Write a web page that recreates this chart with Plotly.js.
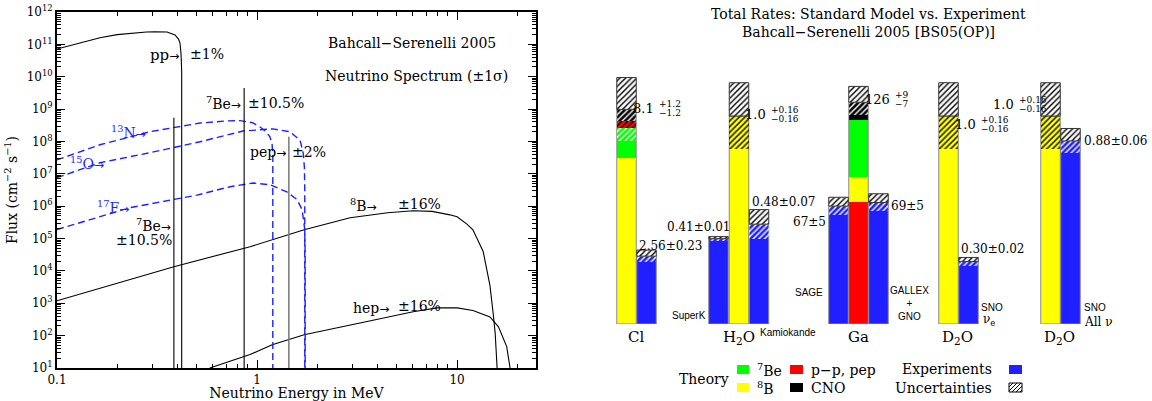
<!DOCTYPE html>
<html><head><meta charset="utf-8">
<script src="https://cdn.plot.ly/plotly-3.0.1.min.js"></script>
<style>html,body{margin:0;padding:0;background:#fff}#chart{width:1152px;height:401px}</style>
</head><body><div id="chart"></div>
<script>
// ================= DATA: left panel (BS05 neutrino spectrum) =================
// continuum spectra: energy (MeV) and flux (cm^-2 s^-1 MeV^-1)
const ppE   = [0.1, 0.13, 0.164, 0.2, 0.24, 0.28, 0.309, 0.355, 0.389, 0.405, 0.412, 0.417, 0.42, 0.42];
const ppF   = [7.2e10, 1.1e11, 1.6e11, 2.0e11, 2.25e11, 2.4e11, 2.45e11, 2.4e11, 1.95e11, 1.45e11, 1.1e11, 5e10, 1.5e10, 10];
const n13E  = [0.1, 0.164, 0.292, 0.519, 0.70, 0.822, 0.95, 1.035, 1.10, 1.16, 1.19, 1.199, 1.199];
const n13F  = [2.7e7, 7.9e7, 2.0e8, 3.7e8, 4.3e8, 4.4e8, 3.8e8, 2.8e8, 2.1e8, 1.4e8, 7.9e7, 3.2e7, 10];
const o15E  = [0.1, 0.164, 0.292, 0.519, 0.851, 1.2, 1.46, 1.64, 1.70, 1.725, 1.732, 1.732];
const o15F  = [7.6e6, 2.2e7, 4.5e7, 9.8e7, 2.1e8, 2.45e8, 2.0e8, 1.1e8, 4.5e7, 1.6e7, 3.2e6, 10];
const f17E  = [0.1, 0.232, 0.501, 0.733, 0.955, 1.16, 1.41, 1.585, 1.68, 1.73, 1.74, 1.74];
const f17F  = [1.9e5, 9e5, 2.2e6, 4.0e6, 5.2e6, 4.6e6, 2.75e6, 1.6e6, 7.8e5, 2e5, 3.2e4, 10];
const b8E   = [0.1, 0.384, 0.923, 1.72, 2.92, 4.5, 6.03, 7.5, 9.2, 10, 11.2, 12.0, 13.5, 14.6, 15.2, 15.5, 15.85];
const b8F   = [1.2e3, 1.35e4, 5.6e4, 1.86e5, 4.4e5, 6.3e5, 7.2e5, 6.9e5, 5.4e5, 4.7e5, 2.8e5, 1.86e5, 4e4, 3.5e3, 4e2, 1.2e2, 10];
const hepE  = [0.58, 0.923, 1.19, 1.72, 3.5, 6.03, 7.94, 10, 12, 14.6, 16.1, 17.7, 18.4];
const hepF  = [10, 26, 52, 107, 270, 550, 720, 720, 600, 380, 186, 46, 10];
// line sources: energy (MeV) and flux (cm^-2 s^-1)
const lineNames = ['7Be (0.384)', '7Be (0.862)', 'pep'];
const lineE = [0.384, 0.862, 1.442];
const lineF = [5.4e8, 4.5e9, 1.4e8];
// axis ticks
const xTickVals = [0.1, 1, 10];
const xTickText = ['0.1', '1', '10'];
const yTickExp = [1,2,3,4,5,6,7,8,9,10,11,12];

// ================= DATA: right panel (total rates) =================
const groupNames = ['Cl', 'H<sub>2</sub>O', 'Ga', 'D<sub>2</sub>O', 'D<sub>2</sub>O'];
const theory8B  = [6.28, 1.0, 14.0, 1.0, 1.0];
const theory7Be = [1.13, 0,   32.5, 0,   0];
const theoryPP  = [0.25, 0,   69.5, 0,   0];     // p-p + pep
const theoryCNO = [0.44, 0,   10.0, 0,   0];
const theoryTotal = [8.1, 1.0, 126, 1.0, 1.0];
const theoryPlus  = [1.2, 0.16, 9, 0.16, 0.16];
const theoryMinus = [1.2, 0.16, 7, 0.16, 0.16];
const theoryText  = ['8.1', '1.0', '126', '1.0', '1.0'];
const theoryPlusText  = ['+1.2', '+0.16', '+9', '+0.16', '+0.16'];
const theoryMinusText = ['−1.2', '−0.16', '−7', '−0.16', '−0.16'];
const expNames = ['', 'SuperK', 'Kamiokande', 'SAGE', 'GALLEX + GNO', 'SNO νe', 'SNO All ν'];
const expGroup = [0, 1, 1, 2, 2, 3, 4];
const expValue = [2.56, 0.41, 0.48, 67, 69, 0.30, 0.88];
const expErr   = [0.23, 0.01, 0.07, 5, 5, 0.02, 0.06];
const expDecimals = [2, 2, 2, 0, 0, 2, 2];

// ================= LAYOUT / STYLE =================
const W = 1152, H = 401;
const px = x => x / W, py = y => 1 - y / H;
const SERIF = 'DejaVu Serif', SANS = 'Liberation Sans';
const BLUE = '#1f1fff';
const ARROW = '<span style="font-family:DejaVu Sans;font-size:12px">→</span>';
// right panel: bar slot positions (px units on x2), px-per-unit scale per group
const theoryX = [626.5, 739, 858.5, 948.5, 1050.5];
const expX    = [646.5, 718.5, 759, 838.5, 878.5, 968.5, 1070.5];
const groupScale = [26.5, 208, 1.76, 208, 208];
const BW = 19.5;
const stackOrder = [['8B','7Be','pp','CNO'], ['8B'], ['pp','8B','7Be','CNO'], ['8B'], ['8B']];
const compData  = {'8B': theory8B, '7Be': theory7Be, 'pp': theoryPP, 'CNO': theoryCNO};
const compColor = {'8B': '#ffff00', '7Be': '#00ff00', 'pp': '#ff0000', 'CNO': '#000000'};
const compHatch = {'8B': '#000000', '7Be': '#ffffff', 'pp': '#000000', 'CNO': '#ffffff'};

const traces = [];
// ---- left panel curves
function curve(x, y, color, dash, w) {
  traces.push({type:'scatter', mode:'lines', x, y, xaxis:'x', yaxis:'y', hoverinfo:'skip',
    line:{color, width:w||1.1, dash:dash||'solid'}});
}
curve(ppE, ppF, 'black');
curve(b8E, b8F, 'black');
curve(hepE, hepF, 'black');
curve(n13E, n13F, BLUE, '7px,4px', 1.4);
curve(o15E, o15F, BLUE, '7px,4px', 1.4);
curve(f17E, f17F, BLUE, '7px,4px', 1.4);
lineE.forEach((e, i) => {
  curve([e, e], [lineF[i], 10], i === 2 ? '#777777' : 'black', 'solid', i === 2 ? 1.5 : 1.1);
});

// ---- right panel bars
function bars(x, base, h, opts) {
  traces.push(Object.assign({type:'bar', x, base, y:h, width:BW, xaxis:'x2', yaxis:'y2',
    hoverinfo:'skip', marker:{color:'rgba(0,0,0,0)', line:{width:0}}}, opts));
}
const hatch = (fg, bg, lineColor) => ({color: bg, line:{width: lineColor ? 1 : 0, color: lineColor || 'black'},
  pattern:{shape:'/', fgcolor: fg, bgcolor: bg, size: 4, solidity: 0.35}});

// theory stacks
const segs = {};
Object.keys(compData).forEach(k => segs[k] = {x:[], b:[], h:[]});
const lowHatch = {};
Object.keys(compData).forEach(k => lowHatch[k] = {x:[], b:[], h:[]});
theoryX.forEach((x, g) => {
  const s = groupScale[g];
  let cum = 0;
  const lo = theoryTotal[g] - theoryMinus[g], hi = theoryTotal[g];
  stackOrder[g].forEach(k => {
    const v = compData[k][g];
    if (v > 0) {
      segs[k].x.push(x); segs[k].b.push(cum * s); segs[k].h.push(v * s);
      const a = Math.max(cum, lo), b = Math.min(cum + v, hi);
      if (b > a) { lowHatch[k].x.push(x); lowHatch[k].b.push(a * s); lowHatch[k].h.push((b - a) * s); }
      cum += v;
    }
  });
});
Object.keys(segs).forEach(k => bars(segs[k].x, segs[k].b, segs[k].h, {marker:{color:compColor[k], line:{width:0}}}));
// theory outline
bars(theoryX, theoryX.map(() => 0), theoryTotal.map((t, g) => t * groupScale[g]),
  {marker:{color:'rgba(0,0,0,0)', line:{width:1, color:'#8a8a8a'}}});
Object.keys(lowHatch).forEach(k => {
  if (lowHatch[k].x.length) bars(lowHatch[k].x, lowHatch[k].b, lowHatch[k].h, {marker: hatch(compHatch[k], 'rgba(0,0,0,0)')});
});
bars(theoryX, theoryTotal.map((t, g) => t * groupScale[g]), theoryPlus.map((p, g) => p * groupScale[g]),
  {marker: hatch('black', 'white', '#333333')});

// experiments
const eScale = expGroup.map(g => groupScale[g]);
bars(expX, expX.map(() => 0), expValue.map((v, i) => v * eScale[i]),
  {marker:{color: BLUE, line:{width:1, color:'#8a8a8a'}}});
bars(expX, expValue.map((v, i) => (v - expErr[i]) * eScale[i]), expErr.map((e, i) => e * eScale[i]),
  {marker: hatch('white', 'rgba(0,0,0,0)')});
bars(expX, expValue.map((v, i) => v * eScale[i]), expErr.map((e, i) => e * eScale[i]),
  {marker: hatch('black', 'white', '#333333')});

// ================= ANNOTATIONS =================
const ann = [];
function txt(text, x, y, o) {
  o = o || {};
  ann.push({text, x: px(x), y: py(y), xref:'paper', yref:'paper', showarrow:false,
    xanchor: o.xa || 'left', yanchor: o.ya || 'middle', align: o.align || 'left',
    font:{family: o.family || SERIF, size: o.size || 13, color: o.color || 'black'}});
}
// left panel labels
txt('Bahcall−Serenelli 2005', 412, 43, {xa:'center', size:14});
txt('Neutrino Spectrum (±1σ)', 416, 76, {xa:'center', size:14});
txt('pp' + ARROW, 181, 55, {xa:'right', size:15});
txt('±1%', 188, 54, {size:14});
txt('<sup>7</sup>Be' + ARROW, 243, 103, {xa:'right', size:14});
txt('±10.5%', 246, 103, {size:14});
txt('<sup>13</sup>N' + ARROW, 148, 132, {xa:'right', size:14, color:BLUE});
txt('<sup>15</sup>O' + ARROW, 106, 163, {xa:'right', size:14, color:BLUE});
txt('<sup>17</sup>F' + ARROW, 131, 207, {xa:'right', size:14, color:BLUE});
txt('pep' + ARROW, 288, 152, {xa:'right', size:14});
txt('±2%', 290, 152, {size:14});
txt('<sup>7</sup>Be' + ARROW, 173, 225, {xa:'right', size:14});
txt('±10.5%', 174, 240, {xa:'right', size:14});
txt('<sup>8</sup>B' + ARROW, 379, 205, {xa:'right', size:14});
txt('±16%', 396, 204, {size:14});
txt('hep' + ARROW, 391, 308, {xa:'right', size:14});
txt('±16%', 396, 306, {size:14});

// right panel titles
txt('Total Rates: Standard Model vs. Experiment', 868, 14, {xa:'center', size:14});
txt('Bahcall−Serenelli 2005 [BS05(OP)]', 868, 32, {xa:'center', size:14});
// theory value labels (main value right-aligned before the stacked +/- errors)
const thLabelY = [108, 114, 99, 124, 104];
const thSupX = [657, 769, 893, 979, 1017];
theoryText.forEach((t, g) => {
  txt(t, thSupX[g] - 1, thLabelY[g], {xa:'right', size:13});
  txt(theoryPlusText[g], thSupX[g], thLabelY[g] - 4.5, {size:9});
  txt(theoryMinusText[g], thSupX[g], thLabelY[g] + 4.5, {size:9});
});
// experiment value labels
const expLabelXY = [[637, 246, 'left'], [665, 227, 'left'], [750, 202, 'left'], [828, 222, 'right'],
                    [889, 206, 'left'], [959, 249, 'left'], [1082, 141, 'left']];
expValue.forEach((v, i) => {
  const d = expDecimals[i];
  txt(v.toFixed(d) + '±' + expErr[i].toFixed(d), expLabelXY[i][0], expLabelXY[i][1], {xa: expLabelXY[i][2], size:12});
});
// experiment names
txt(expNames[1], 708, 315, {xa:'right', family:SANS, size:10});
txt(expNames[2], 758, 332, {family:SANS, size:10});
txt(expNames[3], 825, 292, {xa:'right', family:SANS, size:10});
txt('GALLEX<br>+<br>GNO', 909, 303, {xa:'center', align:'center', family:SANS, size:10});
txt('SNO', 979, 307, {family:SANS, size:10});
txt('ν<sub>e</sub>', 981, 320, {size:12});
txt('SNO', 1082, 307, {family:SANS, size:10});
txt('All ν', 1082, 322, {size:12});
// group labels
const groupLabelX = [636, 739, 858, 957, 1059];
groupNames.forEach((n, g) => txt(n, groupLabelX[g], 337, {xa:'center', size:15}));
// legend texts
txt('Theory', 704, 379, {xa:'center', size:14});
txt('<sup>7</sup>Be', 755, 370, {size:14});
txt('p−p, pep', 809, 370, {size:14});
txt('<sup>8</sup>B', 755, 388, {size:14});
txt('CNO', 809, 388, {size:14});
txt('Experiments', 900, 369, {size:14});
txt('Uncertainties', 893, 388, {size:14});

// legend swatches
const shapes = [];
function sq(x0, y0, x1, y1, fill, line) {
  shapes.push({type:'rect', xref:'paper', yref:'paper', x0:px(x0), x1:px(x1), y0:py(y1), y1:py(y0),
    fillcolor: fill, line:{width: line ? 1 : 0, color: line || fill}});
}
sq(737, 365, 749, 374, '#00ff00');
sq(790, 365, 803, 374, '#ff0000');
sq(737, 383, 749, 392, '#ffff00');
sq(790, 383, 803, 392, '#000000');
sq(1009, 365, 1022, 374, BLUE);
sq(1009, 383, 1022, 392, 'white', 'black');
[[1009, 387, 1013, 383], [1009, 391, 1017, 383], [1012, 392, 1021, 383], [1016, 392, 1022, 386], [1020, 392, 1022, 390]].forEach(l => {
  shapes.push({type:'line', xref:'paper', yref:'paper', x0:px(l[0]), y0:py(l[1]), x1:px(l[2]), y1:py(l[3]),
    line:{color:'black', width:1}});
});

// ticks
const yTickVals = yTickExp.map(e => Math.pow(10, e));
const yTickText = yTickExp.map(e => '10<sup>' + e + '</sup>');
const yMinor = [];
yTickExp.slice(0, -1).forEach(e => { for (let k = 2; k <= 9; k++) yMinor.push(k * Math.pow(10, e)); });
const xMinor = [];
[0.1, 1, 10].forEach(d => { for (let k = 2; k <= 9; k++) if (k * d < 24.8) xMinor.push(k * d); });

const layout = {
  width: W, height: H, margin:{l:0, r:0, t:0, b:0},
  paper_bgcolor:'white', plot_bgcolor:'white', showlegend:false, barmode:'overlay', bargap:0,
  font:{family:SERIF, color:'black', size:13},
  xaxis:{type:'log', domain:[px(57), px(536)], range:[-1, Math.log10(24.8)], anchor:'y',
    tickmode:'array', tickvals:xTickVals, ticktext:xTickText, ticks:'inside', ticklen:8, tickwidth:1, tickcolor:'black',
    minor:{tickmode:'array', tickvals:xMinor, ticks:'inside', ticklen:4, tickwidth:1, tickcolor:'black', showgrid:false},
    showline:true, linewidth:2, linecolor:'black', mirror:'allticks', showgrid:false, zeroline:false,
    tickfont:{family:SERIF, size:12}, title:{text:'Neutrino Energy in MeV', font:{family:SERIF, size:14}, standoff:7}},
  yaxis:{type:'log', domain:[py(368), py(12)], range:[1, 12], anchor:'x',
    tickmode:'array', tickvals:yTickVals, ticktext:yTickText, ticks:'inside', ticklen:8, tickwidth:1, tickcolor:'black',
    minor:{tickmode:'array', tickvals:yMinor, ticks:'inside', ticklen:4, tickwidth:1, tickcolor:'black', showgrid:false},
    showline:true, linewidth:2, linecolor:'black', mirror:'allticks', showgrid:false, zeroline:false,
    tickfont:{family:SERIF, size:12}, title:{text:'Flux (cm<sup>−2</sup> s<sup>−1</sup>)', font:{family:SERIF, size:14}, standoff:6}},
  xaxis2:{domain:[px(590), px(1150)], range:[590, 1150], anchor:'y2', visible:false, fixedrange:true},
  yaxis2:{domain:[py(324), py(74)], range:[0, 250], anchor:'x2', visible:false, fixedrange:true},
  annotations: ann, shapes
};
Plotly.newPlot('chart', traces, layout, {staticPlot:true, displayModeBar:false});
</script>
</body></html>
